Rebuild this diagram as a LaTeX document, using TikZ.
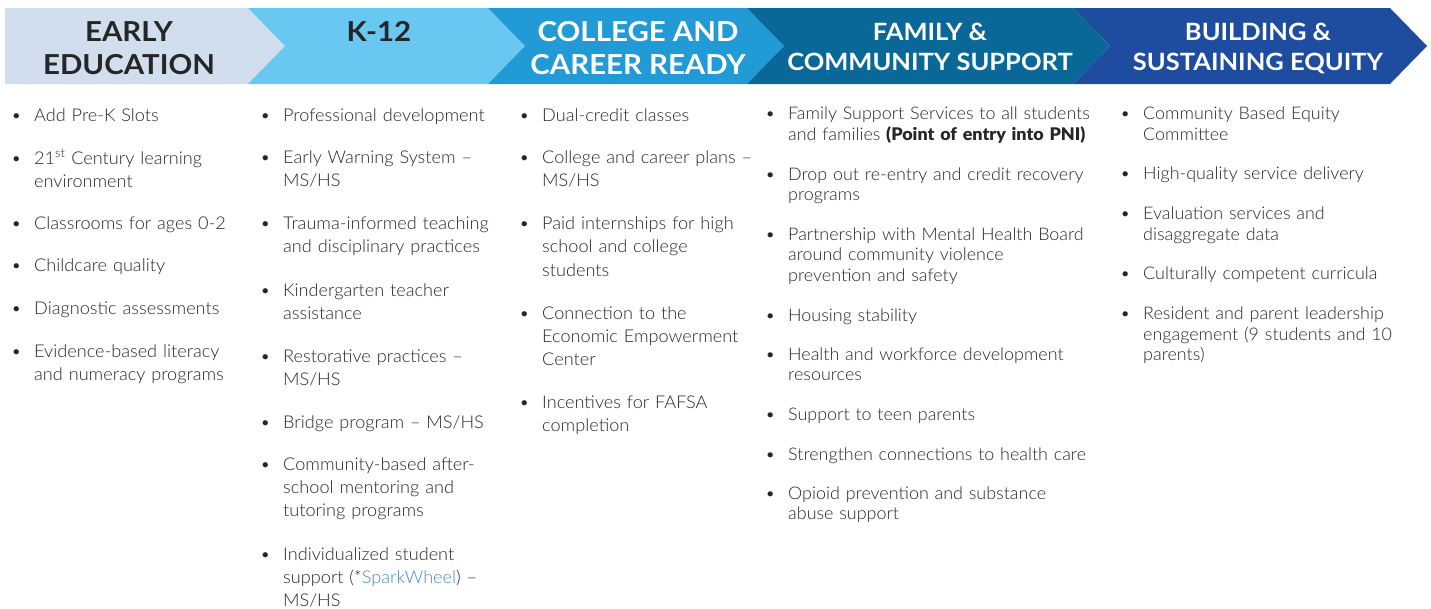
\documentclass[tikz,border=0pt]{standalone}
\usepackage{fontspec}
\setmainfont{Lato}
\newfontfamily\bodyfont{Lato Light}[BoldFont={Lato Black}, FakeStretch=1.03]
\newfontfamily\headfont{Lato Bold}[FakeStretch=1.07]
\definecolor{stepone}{HTML}{D0DEED}
\definecolor{steptwo}{HTML}{68C8F2}
\definecolor{stepthree}{HTML}{219AD6}
\definecolor{stepfour}{HTML}{0A6898}
\definecolor{stepfive}{HTML}{1E4DA0}
\definecolor{txtgray}{HTML}{262626}
\definecolor{linkblue}{HTML}{4A86C8}
\newcommand{\itm}[1]{\hyphenpenalty=10000\hangindent=23pt\hangafter=1\makebox[23pt][l]{\textbullet}#1\par}
\begin{document}
\begin{tikzpicture}[x=1pt,y=-1pt,
  head/.style={anchor=base, align=center, inner sep=0pt, font=\headfont\fontsize{27.5}{33}\selectfont},
  headsm/.style={head, font=\headfont\fontsize{23.8}{30}\selectfont},
  bigtxt/.style={anchor=base west, align=left, inner sep=0pt, text width=420pt, text=txtgray, font=\bodyfont\fontsize{17.6}{23.4}\selectfont},
  smalltxt/.style={bigtxt, font=\bodyfont\fontsize{17.4}{20.5}\selectfont}]
\useasboundingbox (0,0) rectangle (1431,608);
\fill[stepone] (5,8) -- (248,8) -- (285,46) -- (248,84) -- (5,84) -- cycle;
\fill[steptwo] (248,8) -- (488,8) -- (525,46) -- (488,84) -- (248,84) -- (285,46) -- cycle;
\fill[stepthree] (488,8) -- (747,8) -- (784,46) -- (747,84) -- (488,84) -- (525,46) -- cycle;
\fill[stepfour] (747,8) -- (1073,8) -- (1110,46) -- (1073,84) -- (747,84) -- (784,46) -- cycle;
\fill[stepfive] (1073,8) -- (1390,8) -- (1427,46) -- (1390,84) -- (1073,84) -- (1110,46) -- cycle;
\node[head, text=txtgray] (early) at (129,74) {EARLY\\EDUCATION};
\node[head, text=txtgray] (kgrade) at (379,41) {K-12};
\node[head, text=white] (college) at (638,74) {COLLEGE AND\\CAREER READY};
\node[headsm, text=white] (family) at (930,70) {FAMILY \&\\COMMUNITY SUPPORT};
\node[headsm, text=white] (equity) at (1258,70) {BUILDING \&\\SUSTAINING EQUITY};
\node[bigtxt] (ee1) at (11,121) {\itm{Add Pre-K Slots}};
\node[bigtxt] (ee2) at (11,164) {\itm{21\textsuperscript{st} Century learning\newline environment}};
\node[bigtxt] (ee3) at (11,229.5) {\itm{Classrooms for ages 0-2}};
\node[bigtxt] (ee4) at (11,271.5) {\itm{Childcare quality}};
\node[bigtxt] (ee5) at (11,314.5) {\itm{Diagnostic assessments}};
\node[bigtxt] (ee6) at (11,357) {\itm{Evidence-based literacy\newline and numeracy programs}};
\node[bigtxt] (kg1) at (260,121) {\itm{Professional development}};
\node[bigtxt] (kg2) at (260,163.5) {\itm{Early Warning System –\newline MS/HS}};
\node[bigtxt] (kg3) at (260,229.5) {\itm{Trauma-informed teaching\newline and disciplinary practices}};
\node[bigtxt] (kg4) at (260,296) {\itm{Kindergarten teacher\newline assistance}};
\node[bigtxt] (kg5) at (260,362) {\itm{Restorative practices –\newline MS/HS}};
\node[bigtxt] (kg6) at (260,428) {\itm{Bridge program – MS/HS}};
\node[bigtxt] (kg7) at (260,470) {\itm{Community-based after-\newline school mentoring and\newline tutoring programs}};
\node[bigtxt] (kg8) at (260,560) {\itm{Individualized student\newline support (*\textcolor{linkblue}{SparkWheel}) –\newline MS/HS}};
\node[bigtxt] (cc1) at (519,121) {\itm{Dual-credit classes}};
\node[bigtxt] (cc2) at (519,163.5) {\itm{College and career plans –\newline MS/HS}};
\node[bigtxt] (cc3) at (519,229.5) {\itm{Paid internships for high\newline school and college\newline students}};
\node[bigtxt] (cc4) at (519,319) {\itm{Connection to the\newline Economic Empowerment\newline Center}};
\node[bigtxt] (cc5) at (519,408.5) {\itm{Incentives for FAFSA\newline completion}};
\node[smalltxt] (fc1) at (765,119.5) {\itm{Family Support Services to all students\newline and families \textbf{(Point of entry into PNI)}}};
\node[smalltxt] (fc2) at (765,180) {\itm{Drop out re-entry and credit recovery\newline programs}};
\node[smalltxt] (fc3) at (765,240) {\itm{Partnership with Mental Health Board\newline around community violence\newline prevention and safety}};
\node[smalltxt] (fc4) at (765,321) {\itm{Housing stability}};
\node[smalltxt] (fc5) at (765,360) {\itm{Health and workforce development\newline resources}};
\node[smalltxt] (fc6) at (765,420) {\itm{Support to teen parents}};
\node[smalltxt] (fc7) at (765,460) {\itm{Strengthen connections to health care}};
\node[smalltxt] (fc8) at (765,499) {\itm{Opioid prevention and substance\newline abuse support}};
\node[smalltxt] (se1) at (1120,119.5) {\itm{Community Based Equity\newline Committee}};
\node[smalltxt] (se2) at (1120,179.5) {\itm{High-quality service delivery}};
\node[smalltxt] (se3) at (1120,219.5) {\itm{Evaluation services and\newline disaggregate data}};
\node[smalltxt] (se4) at (1120,279.5) {\itm{Culturally competent curricula}};
\node[smalltxt] (se5) at (1120,319.5) {\itm{Resident and parent leadership\newline engagement (9 students and 10\newline parents)}};
\end{tikzpicture}
\end{document}
